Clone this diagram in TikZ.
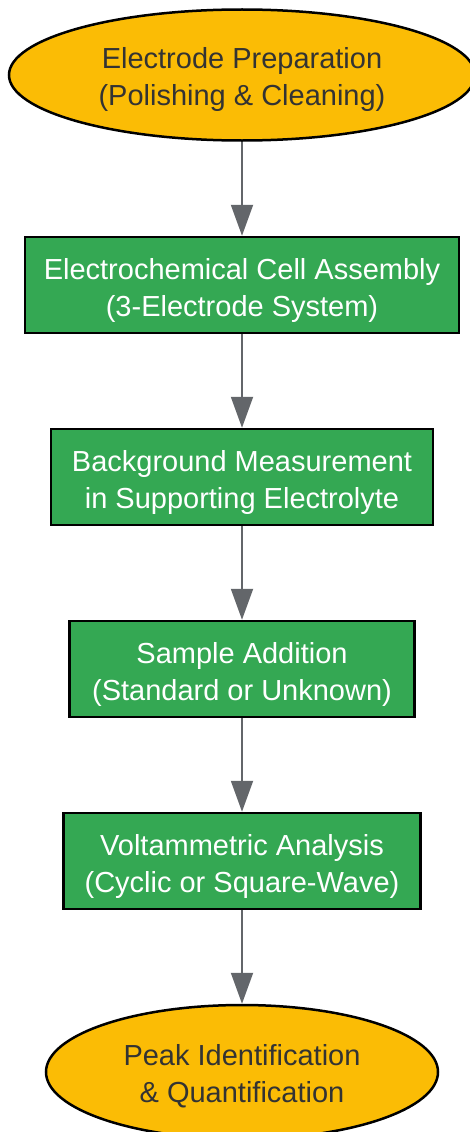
\documentclass[tikz,border=0pt]{standalone}
\usepackage{fontspec}
\setmainfont{Liberation Sans}
\usetikzlibrary{shapes.geometric,arrows.meta}
\definecolor{startyellow}{HTML}{FBBC05}
\definecolor{stepgreen}{HTML}{34A853}
\definecolor{arrowgray}{HTML}{63666A}
\definecolor{darktext}{HTML}{333333}
\begin{document}
\begin{tikzpicture}[x=1pt,y=-1pt,
  terminal/.style={draw, ellipse, line width=2.5pt, fill=startyellow, text=darktext, inner sep=0pt, text height=69pt, text depth=8pt, align=center, font=\fontsize{29}{37}\selectfont},
  stepbox/.style={draw, rectangle, line width=2.5pt, fill=stepgreen, text=white, inner sep=0pt, text height=70pt, text depth=8pt, minimum height=96pt, align=center, font=\fontsize{29}{37}\selectfont},
  arr/.style={line width=2pt, color=arrowgray, -{Triangle[length=31pt,width=22pt]}}]
  \useasboundingbox (0,0) rectangle (470,1132);
  \node[terminal, minimum width=466pt, minimum height=131pt] (prep) at (242,75) {Electrode Preparation\\(Polishing \& Cleaning)};
  \node[stepbox, minimum width=434pt] (cell) at (242,285) {Electrochemical Cell Assembly\\(3-Electrode System)};
  \node[stepbox, minimum width=382pt] (bkg) at (242,477) {Background Measurement\\in Supporting Electrolyte};
  \node[stepbox, minimum width=345pt] (sample) at (242,669) {Sample Addition\\(Standard or Unknown)};
  \node[stepbox, minimum width=357pt] (volt) at (242,861) {Voltammetric Analysis\\(Cyclic or Square-Wave)};
  \node[terminal, minimum width=392pt, minimum height=134pt] (peak) at (242,1072) {Peak Identification\\\& Quantification};
  \draw[arr] (prep) -- (cell);
  \draw[arr] (cell) -- (bkg);
  \draw[arr] (bkg) -- (sample);
  \draw[arr] (sample) -- (volt);
  \draw[arr] (volt) -- (peak);
\end{tikzpicture}
\end{document}
